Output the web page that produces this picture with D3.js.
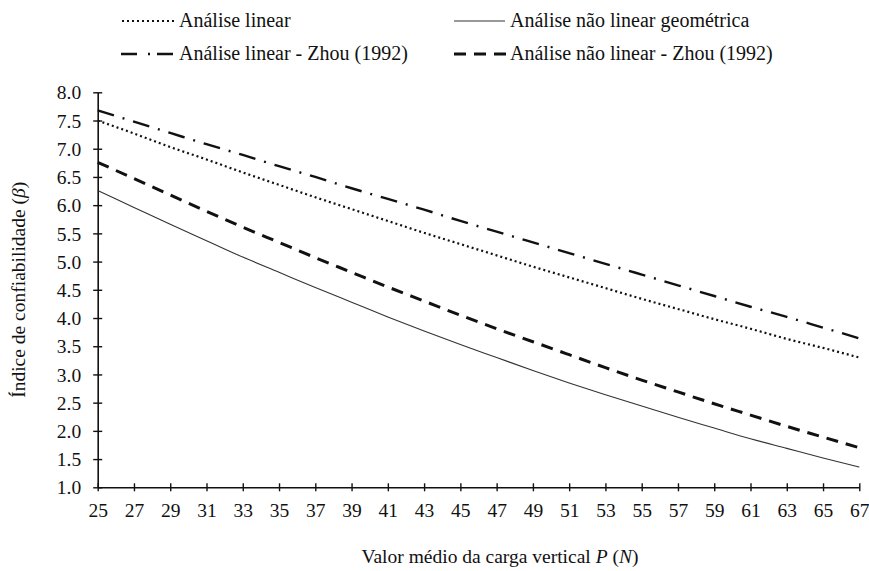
<!DOCTYPE html>
<html>
<head>
<meta charset="utf-8">
<script src="https://cdn.jsdelivr.net/npm/d3@7"></script>
<style>
  body { margin: 0; background: #fff; }
  svg { display: block; }
</style>
</head>
<body>
<svg id="chart" width="869" height="571"></svg>
<script>
// carga vertical P (N)
const cargas = [25, 27, 29, 31, 33, 35, 37, 39, 41, 43, 45, 47, 49, 51, 53, 55, 57, 59, 61, 63, 65, 67];

// índice de confiabilidade beta
const linear = [7.50, 7.27, 7.03, 6.81, 6.58, 6.36, 6.14, 5.93, 5.72, 5.51, 5.31, 5.11, 4.91, 4.72, 4.53, 4.34, 4.16, 3.98, 3.81, 3.63, 3.47, 3.30];
const naoLinearGeom = [6.26, 5.96, 5.66, 5.37, 5.08, 4.81, 4.54, 4.28, 4.02, 3.77, 3.53, 3.30, 3.07, 2.85, 2.64, 2.44, 2.24, 2.05, 1.86, 1.69, 1.52, 1.36];
const linearZhou = [7.68, 7.48, 7.28, 7.08, 6.89, 6.69, 6.50, 6.30, 6.11, 5.92, 5.72, 5.53, 5.34, 5.15, 4.96, 4.77, 4.58, 4.39, 4.20, 4.02, 3.83, 3.64];
const naoLinearZhou = [6.76, 6.47, 6.18, 5.89, 5.61, 5.34, 5.07, 4.81, 4.55, 4.30, 4.05, 3.81, 3.58, 3.35, 3.12, 2.90, 2.69, 2.48, 2.28, 2.08, 1.89, 1.70];

const yTicks = [1, 1.5, 2, 2.5, 3, 3.5, 4, 4.5, 5, 5.5, 6, 6.5, 7, 7.5, 8];
const legendLabels = [
  "Análise linear",
  "Análise não linear geométrica",
  "Análise linear - Zhou (1992)",
  "Análise não linear - Zhou (1992)",
];

const estilos = [
  { dash: "2,3", width: 2.2, color: "#111" },
  { dash: null, width: 1.1, color: "#333" },
  { dash: "17,9,2,9", width: 2.4, color: "#111" },
  { dash: "12,8", width: 3, color: "#111" },
];
const series = [linear, naoLinearGeom, linearZhou, naoLinearZhou];

const serif = "Liberation Serif";
const margin = { left: 97.7, right: 9.7, top: 92.3, bottom: 83.7 };
const svg = d3.select("#chart");
const W = +svg.attr("width"), H = +svg.attr("height");

const x = d3.scaleLinear().domain([25, 67]).range([margin.left, W - margin.right]);
const y = d3.scaleLinear().domain([1, 8]).range([H - margin.bottom, margin.top]);

// eixos
const xAxis = svg.append("g")
  .attr("transform", `translate(0,${y(1)})`)
  .call(d3.axisBottom(x).tickValues(cargas).tickSize(4).tickSizeOuter(0).tickFormat(d3.format("d")));
const yAxis = svg.append("g")
  .attr("transform", `translate(${x(25)},0)`)
  .call(d3.axisLeft(y).tickValues(yTicks).tickSize(4.5).tickSizeOuter(0).tickPadding(12).tickFormat(d3.format(".1f")));

[xAxis, yAxis].forEach(g => {
  g.attr("font-family", serif).attr("font-size", 19.5);
  g.select(".domain").attr("stroke", "#111").attr("stroke-width", 1.6);
  g.selectAll(".tick line").attr("stroke", "#111").attr("stroke-width", 1.4);
  g.selectAll(".tick text").attr("fill", "#111");
});
xAxis.selectAll(".tick line").attr("y1", -4).attr("y2", 4);
xAxis.selectAll(".tick text").attr("y", 16).attr("dy", "0.71em");
yAxis.selectAll(".tick line").attr("x1", 4.5).attr("x2", -4.5);
yAxis.selectAll(".tick text").attr("dy", "0.34em");

// curvas
const line = d3.line()
  .x((d, i) => x(cargas[i]))
  .y(d => y(d))
  .curve(d3.curveMonotoneX);

series.forEach((s, k) => {
  svg.append("path")
    .datum(s)
    .attr("fill", "none")
    .attr("stroke", estilos[k].color)
    .attr("stroke-width", estilos[k].width)
    .attr("stroke-dasharray", estilos[k].dash)
    .attr("d", line);
});

// legenda
const legPos = [
  { x0: 122, x1: 175, tx: 179, ty: 27 },
  { x0: 454, x1: 505, tx: 510, ty: 27 },
  { x0: 121, x1: 176, tx: 179, ty: 60 },
  { x0: 454, x1: 506, tx: 510, ty: 60 },
];
const leg = svg.append("g").attr("class", "legend")
  .attr("font-family", serif).attr("font-size", 20).attr("fill", "#111");
legendLabels.forEach((lab, k) => {
  const p = legPos[k];
  leg.append("line")
    .attr("x1", p.x0).attr("x2", p.x1)
    .attr("y1", p.ty - 6).attr("y2", p.ty - 6)
    .attr("stroke", estilos[k].color)
    .attr("stroke-width", estilos[k].width)
    .attr("stroke-dasharray", k === 2 ? "16,11,2,7" : estilos[k].dash);
  leg.append("text")
    .attr("x", p.tx).attr("y", p.ty)
    .text(lab);
});

// títulos
const xt = svg.append("text")
  .attr("x", 500).attr("y", 563)
  .attr("text-anchor", "middle")
  .attr("font-family", serif)
  .attr("font-size", 19.5)
  .attr("fill", "#111");
xt.append("tspan").text("Valor médio da carga vertical ");
xt.append("tspan").attr("font-style", "italic").text("P");
xt.append("tspan").text(" (");
xt.append("tspan").attr("font-style", "italic").text("N");
xt.append("tspan").text(")");

const yt = svg.append("text")
  .attr("transform", `translate(25,${(y(1) + y(8)) / 2}) rotate(-90)`)
  .attr("text-anchor", "middle")
  .attr("font-family", serif)
  .attr("font-size", 19.5)
  .attr("fill", "#111");
yt.append("tspan").text("Índice de confiabilidade (");
yt.append("tspan").attr("font-style", "italic").text("β");
yt.append("tspan").text(")");
</script>
</body>
</html>
